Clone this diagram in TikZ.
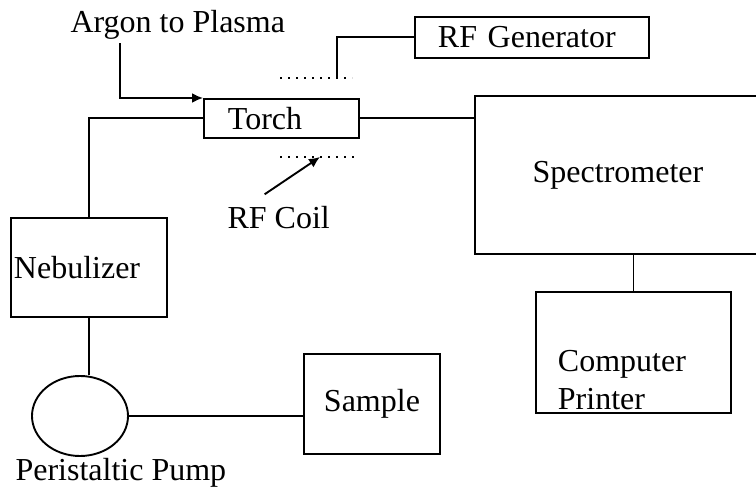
\documentclass[tikz,border=0pt]{standalone}
\usepackage{fontspec}
\setmainfont{Liberation Serif}
\usetikzlibrary{arrows.meta, shapes.geometric}

\begin{document}
\begin{tikzpicture}[x=1pt, y=-1pt]
    % --- GLOBAL DEFINITIONS ---
    \tikzset{
        every node/.style={font=\fontsize{32}{38}\selectfont},
        unitbox/.style={draw, rectangle, anchor=north west, line width=1.9pt, align=left},
        pipe/.style={line width=1.9pt},
        flowarrow/.style={-{Latex[length=11pt, width=10pt]}, line width=1.9pt},
        coilline/.style={line width=1.5pt, dash pattern=on 2pt off 6pt}
    }
    \useasboundingbox (0,0) rectangle (756,489);

    % Torch and RF parts
    \node[unitbox, minimum width=155pt, minimum height=39pt, inner xsep=24pt, text width=107pt] (torch) at (203,98) {Torch};
    \node[unitbox, minimum width=234pt, minimum height=41pt, inner xsep=23pt, text width=188pt] (rfgen) at (414,16) {RF Generator};
    \node[anchor=base west] (argon) at (67,33) {Argon to Plasma};
    \node[anchor=base west] (coil) at (224,229) {RF Coil};
    \coordinate (coiltop) at (337,78);
    \coordinate (coilbot) at (320,157);
    \draw[coilline] (280,78) -- (352,78);
    \draw[coilline] (280,157) -- (354,157);

    % Sample introduction
    \node[unitbox, minimum width=156pt, minimum height=99pt, inner xsep=3pt, text width=150pt] (nebulizer) at (10,217) {Nebulizer};
    \node[draw, ellipse, line width=1.9pt, minimum width=96pt, minimum height=80pt, inner sep=0pt] (pump) at (80,416) {};
    \node[anchor=base west] (pumplabel) at (12,480) {Peristaltic Pump};
    \node[unitbox, minimum width=136pt, minimum height=100pt, align=center] (sample) at (303,353) {Sample};

    % Detection
    \node[unitbox, minimum width=286pt, minimum height=158pt, align=center] (spec) at (474,95) {Spectrometer};
    \node[unitbox, minimum width=195pt, minimum height=121pt, inner xsep=22pt, text width=151pt, text height=76pt] (printer) at (535,291) {Computer\\Printer};

    % Connections
    \draw[flowarrow] ([xshift=53pt]argon.south west) |- (torch.north west);
    \draw[pipe] (rfgen.west) -| (coiltop);
    \draw[flowarrow] ([xshift=-14pt, yshift=9pt]coil.north) -- (coilbot);
    \draw[pipe] (torch.west) -| (nebulizer.north);
    \draw[pipe] (torch.east) -- (torch.east -| spec.west);
    \draw[pipe] (nebulizer.south) -- (nebulizer.south |- pump.north);
    \draw[pipe] (pump.east) -- (pump.east -| sample.west);
    \draw[pipe] (printer.north) -- (printer.north |- spec.south);
\end{tikzpicture}
\end{document}
